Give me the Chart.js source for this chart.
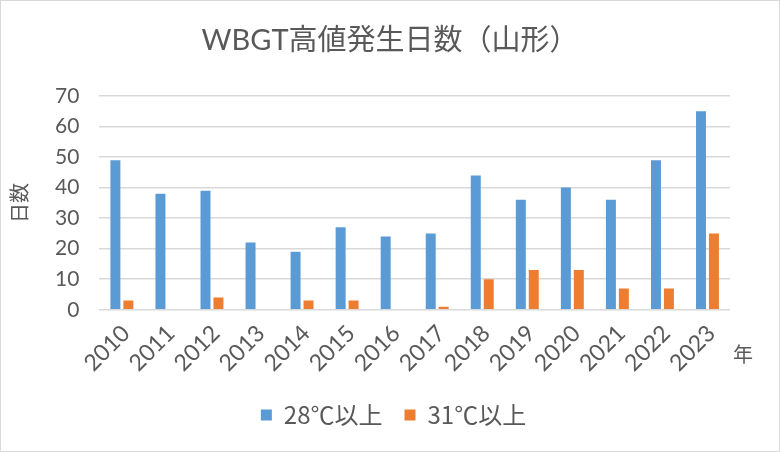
<!DOCTYPE html>
<html>
<head>
<meta charset="utf-8">
<script src="https://cdn.jsdelivr.net/npm/chart.js@4.4.0/dist/chart.umd.min.js"></script>
<style>
    html, body { margin: 0; padding: 0; background: #fff; }
    #wrap { width: 780px; height: 452px; }
</style>
</head>
<body>
<div id="wrap"><canvas id="wbgtChart" width="780" height="452"></canvas></div>
<script>
const years = ['2010', '2011', '2012', '2013', '2014', '2015', '2016', '2017', '2018', '2019', '2020', '2021', '2022', '2023'];
const days28 = [49, 38, 39, 22, 19, 27, 24, 25, 44, 36, 40, 36, 49, 65];
const days31 = [3, 0, 4, 0, 3, 3, 0, 1, 10, 13, 13, 7, 7, 25];
const yTicks = [0, 10, 20, 30, 40, 50, 60, 70];

const chartTitle = 'WBGT高値発生日数（山形）';
const xTitle = '年';

const textColor = '#595959';
const fontFamily = 'Lato, "Noto Sans CJK JP", sans-serif';
const cjkFamily = '"Noto Sans CJK JP", sans-serif';

// 枠線・タイトル・「年」ラベル
const extras = {
    id: 'extras',
    beforeDraw(chart) {
        const ctx = chart.ctx;
        ctx.save();
        ctx.fillStyle = '#fff';
        ctx.fillRect(0, 0, chart.width, chart.height);
        ctx.strokeStyle = '#d9d9d9';
        ctx.lineWidth = 1;
        ctx.strokeRect(0.5, 0.5, chart.width - 1, chart.height - 1);
        ctx.restore();
    },
    afterDraw(chart) {
        const ctx = chart.ctx;
        ctx.save();
        ctx.fillStyle = textColor;
        ctx.textAlign = 'center';
        ctx.textBaseline = 'middle';
        ctx.font = '29px ' + fontFamily;
        ctx.fillText(chartTitle, chart.width / 2, 41);
        ctx.font = '20px ' + cjkFamily;
        ctx.fillText(xTitle, 743, 354);
        ctx.restore();
    }
};

new Chart(document.getElementById('wbgtChart'), {
    type: 'bar',
    data: {
        labels: years,
        datasets: [
            { label: '28℃以上', data: days28, backgroundColor: '#5B9BD5' },
            { label: '31℃以上', data: days31, backgroundColor: '#ED7D31' }
        ]
    },
    options: {
        responsive: false,
        animation: false,
        categoryPercentage: 0.575,
        barPercentage: 0.77,
        layout: { padding: { left: 7, right: 0, top: 96, bottom: 15 } },
        plugins: {
            title: { display: false },
            legend: {
                position: 'bottom',
                labels: {
                    color: textColor,
                    font: { family: cjkFamily, size: 24 },
                    boxWidth: 11,
                    boxHeight: 11,
                    padding: 22
                }
            },
            tooltip: { enabled: false }
        },
        scales: {
            x: {
                afterFit: scale => { scale.height += 2; },
                grid: { display: false },
                border: { display: false },
                ticks: {
                    color: textColor,
                    font: { family: fontFamily, size: 23 },
                    minRotation: 45,
                    maxRotation: 45,
                    padding: 2,
                    labelOffset: 4
                }
            },
            y: {
                min: 0,
                max: 70,
                afterBuildTicks: axis => { axis.ticks = yTicks.map(v => ({ value: v })); },
                grid: { color: '#d9d9d9', lineWidth: 1.5, drawTicks: false },
                border: { display: false },
                ticks: {
                    color: textColor,
                    font: { family: fontFamily, size: 21 },
                    padding: 20
                },
                title: {
                    display: true,
                    text: '日数',
                    color: textColor,
                    font: { family: cjkFamily, size: 20 },
                    padding: { top: 0, bottom: 4 }
                }
            },
            // 右側の余白用（「年」ラベルのスペース）
            yRight: {
                position: 'right',
                min: 0,
                max: 70,
                afterFit: scale => { scale.width = 50; },
                grid: { display: false },
                border: { display: false },
                ticks: { display: false }
            }
        }
    },
    plugins: [extras]
});
</script>
</body>
</html>
